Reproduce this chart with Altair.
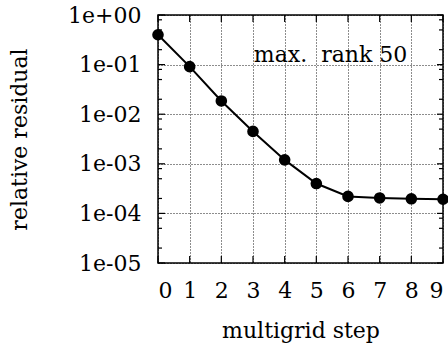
import altair as alt
import pandas as pd

# data
steps = [0, 1, 2, 3, 4, 5, 6, 7, 8, 9]
residual = [0.40, 0.091, 0.0185, 0.0045, 0.0012, 0.00040, 0.00022, 0.000205, 0.000197, 0.000193]

y_major = [1e-5, 1e-4, 1e-3, 1e-2, 1e-1, 1e0]
y_minor = [2e-5, 5e-5, 8e-5, 2e-4, 5e-4, 8e-4, 2e-3, 5e-3, 8e-3,
           2e-2, 5e-2, 8e-2, 2e-1, 5e-1, 8e-1]
x_major = [0, 1, 2, 3, 4, 5, 6, 7, 8, 9]

ann_text = ["max.\u00a0 rank 50"]
ann_x = [5.45]
ann_y = [0.112]

W, H = 285, 248
FONT = "DejaVu Serif"
FS = 22

df = pd.DataFrame({"step": steps, "res": residual})
df_ymaj = pd.DataFrame({"res": y_major})
df_ymin = pd.DataFrame({"res": y_minor})
df_xmaj = pd.DataFrame({"step": x_major})
df_ann = pd.DataFrame({"step": ann_x, "res": ann_y, "t": ann_text})

xscale = alt.Scale(domain=[0, 9], nice=False, zero=False)
yscale = alt.Scale(type="log", domain=[1e-5, 1], nice=False)

label_expr = "datum.value >= 1 ? '1e+00' : '1e-0' + format(-log(datum.value)/LN10, '.0f')"

common = dict(tickSize=0, domain=False, labelPadding=17,
              grid=True, gridDash=[1, 2], gridColor="#000", gridWidth=0.9,
              gridOpacity=1,
              labelFont=FONT, labelFontSize=FS, labelColor="black",
              titleFont=FONT, titleFontSize=FS, titleFontWeight="normal",
              titleColor="black")

x_axis = alt.Axis(values=x_major, format="d", title="multigrid step",
                  titleX=142.5, titleY=74,
                  titleBaseline="alphabetic", titleAlign="center", **common)
y_axis = alt.Axis(values=y_major, labelExpr=label_expr, title="relative residual",
                  titleX=-139, titleY=124,
                  titleAngle=270, titleAlign="center", titleBaseline="middle", **common)

X = alt.X("step:Q", scale=xscale, axis=x_axis, title="multigrid step")
Y = alt.Y("res:Q", scale=yscale, axis=y_axis, title="relative residual")

line = alt.Chart(df).mark_line(color="black", strokeWidth=2).encode(x=X, y=Y)
points = alt.Chart(df).mark_circle(color="black", size=135, opacity=1).encode(x=X, y=Y)

def yticks(d, x0, x1):
    return alt.Chart(d).mark_rule(color="black", strokeWidth=1.2).encode(
        y=Y, x=alt.value(x0), x2=alt.value(x1))

def xticks(y0, y1):
    return alt.Chart(df_xmaj).mark_rule(color="black", strokeWidth=1.2).encode(
        x=X, y=alt.value(y0), y2=alt.value(y1))

ann = alt.Chart(df_ann).mark_text(font=FONT, fontSize=FS, color="black",
                                  align="center", baseline="alphabetic").encode(
    x=X, y=Y, text="t:N")

chart = alt.layer(
    line, points,
    yticks(df_ymaj, 0, 7), yticks(df_ymaj, W - 6, W),
    yticks(df_ymin, 0, 4), yticks(df_ymin, W - 4, W),
    xticks(0, 7), xticks(H - 7, H),
    ann,
).properties(
    width=W, height=H,
    background="white",
    autosize=alt.AutoSizeParams(type="none"),
    padding={"left": 158, "top": 15, "right": 5, "bottom": 91},
).configure_view(stroke="black", strokeWidth=1.5)

chart.save("out.html", embed_options={"renderer": "svg", "actions": False})
